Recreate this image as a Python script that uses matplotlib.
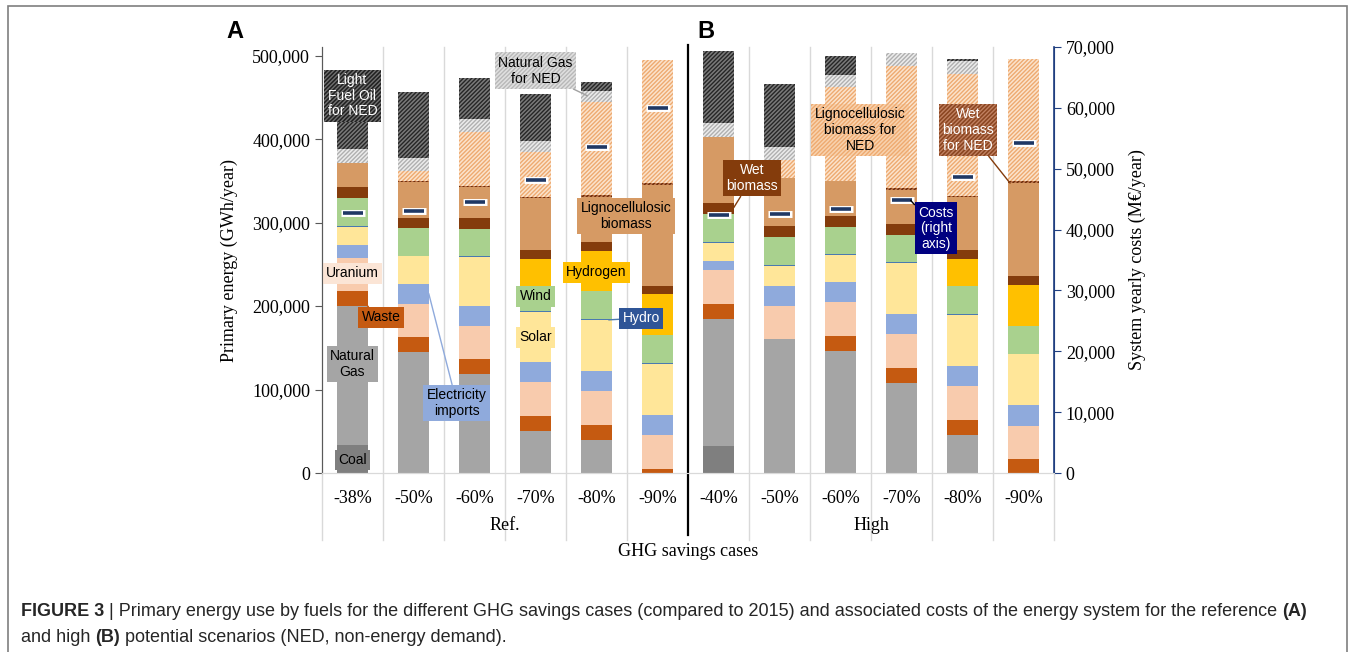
import numpy as np
import matplotlib
matplotlib.use('Agg')
import matplotlib.pyplot as plt
from matplotlib.patches import Rectangle
from matplotlib.ticker import FuncFormatter

# ---- data (GWh/year, costs in M EUR/year) ----
cases = ['-38%', '-50%', '-60%', '-70%', '-80%', '-90%',
         '-40%', '-50%', '-60%', '-70%', '-80%', '-90%']
groups = ['Ref.', 'High']

coal = [33000, 0, 0, 0, 0, 0, 32000, 0, 0, 0, 0, 0]
natural_gas = [167000, 145000, 118500, 50500, 40000, 0, 153000, 160000, 146500, 108000, 46000, 0]
waste = [18000, 17500, 17500, 17500, 17500, 5000, 18000, 0, 17500, 17500, 17500, 16500]
uranium = [40000, 40500, 40500, 40500, 40500, 40000, 40500, 40500, 40500, 40500, 40500, 40000]
elec_imports = [15000, 24000, 24000, 24000, 24000, 24500, 11000, 23000, 24000, 24000, 24000, 24500]
solar = [22000, 32500, 58500, 61000, 61000, 61500, 21000, 24500, 32500, 61500, 61000, 61000]
hydro = [1000, 1000, 1000, 1000, 1000, 1000, 1000, 1000, 1000, 1000, 1000, 1000]
wind = [33000, 32500, 32500, 30000, 34000, 33000, 33500, 34000, 32500, 33000, 34000, 33500]
hydrogen = [0, 0, 0, 31500, 47500, 49000, 0, 0, 0, 0, 32000, 49000]
wet_biomass = [13500, 13000, 13000, 11000, 11000, 9500, 13000, 13000, 13000, 13000, 11000, 10000]
ligno_biomass = [29500, 42500, 37000, 62500, 54500, 122000, 80000, 58000, 42000, 41000, 63500, 112500]
wet_biomass_ned = [0, 1500, 1500, 1500, 1500, 1500, 0, 0, 0, 1500, 1500, 1500]
ligno_biomass_ned = [0, 11500, 65000, 54000, 112500, 148000, 0, 21500, 113500, 147000, 145500, 146000]
natural_gas_ned = [16000, 16500, 15500, 13000, 12500, 0, 16000, 15500, 13500, 15500, 16500, 0]
fuel_oil_ned = [86000, 78500, 48500, 56500, 10500, 0, 86500, 74500, 23000, 0, 2000, 0]
costs = [42700, 43100, 44500, 48100, 53600, 59900, 42400, 42600, 43400, 44800, 48700, 54300]

W, H = 1354, 652
fig = plt.figure(figsize=(W / 100, H / 100), dpi=100)
fig.patch.set_facecolor('white')

# outer frame
fig.add_artist(Rectangle((8 / W, -0.01), (1347 - 8) / W, 1 - 6 / H + 0.01,
                         transform=fig.transFigure, fill=False,
                         edgecolor='#7f7f7f', linewidth=1.2))

ax = fig.add_axes([322 / W, 1 - 473 / H, (1054 - 322) / W, (473 - 47) / H])
ax2 = ax.twinx()

serif = 'Liberation Serif'
sans = 'Liberation Sans'

x = np.arange(len(cases))
layers = [
    (coal, '#7f7f7f', None, None),
    (natural_gas, '#a5a5a5', None, None),
    (waste, '#c55a11', None, None),
    (uranium, '#f8cbad', None, None),
    (elec_imports, '#8faadc', None, None),
    (solar, '#ffe699', None, None),
    (hydro, '#4a7ab0', None, None),
    (wind, '#a9d18e', None, None),
    (hydrogen, '#ffc000', None, None),
    (wet_biomass, '#843c0c', None, None),
    (ligno_biomass, '#d69a64', None, None),
    (wet_biomass_ned, '#c07a50', '////////', '#6b2a08'),
    (ligno_biomass_ned, '#fbe3cc', '////////', '#eeaa70'),
    (natural_gas_ned, '#ececec', '////////', '#b0b0b0'),
    (fuel_oil_ned, '#7a7a7a', '////////', '#262626'),
]
bottom = np.zeros(len(cases))
for vals, col, hatch, hcol in layers:
    vals = np.array(vals, dtype=float)
    if hatch:
        ax.bar(x, vals, 0.5, bottom=bottom, color=col, edgecolor=hcol,
               hatch=hatch, linewidth=0, zorder=2)
    else:
        ax.bar(x, vals, 0.5, bottom=bottom, color=col, linewidth=0, zorder=2)
    bottom += vals

ymax = 500000 * (473 - 47) / (473 - 55.7)
ax.set_xlim(-0.5, len(cases) - 0.5)
ax.set_ylim(0, ymax)
ax.set_yticks(np.arange(0, 500001, 100000))
ax.yaxis.set_major_formatter(FuncFormatter(lambda v, p: f'{int(v):,}'))
ax2.set_ylim(0, 70000)
ax2.set_yticks(np.arange(0, 70001, 10000))
ax2.yaxis.set_major_formatter(FuncFormatter(lambda v, p: f'{int(v):,}'))

ax.set_xticks(x)
ax.set_xticklabels(cases, fontfamily=serif, fontsize=13)
ax.tick_params(axis='x', length=0, pad=12)
ax.tick_params(axis='y', colors='#595959', labelcolor='black', length=5,
               labelsize=13, direction='out')
ax2.tick_params(axis='y', colors='#203f80', labelcolor='black', length=5,
                labelsize=13, direction='out')
for lab in ax.get_yticklabels() + ax2.get_yticklabels():
    lab.set_fontfamily(serif)

for a in (ax, ax2):
    a.spines['top'].set_visible(False)
    a.spines['bottom'].set_color('#d9d9d9')
    a.spines['left'].set_color('#595959')
    a.spines['right'].set_color('#203f80')
    a.patch.set_visible(False)
ax2.spines['right'].set_linewidth(1.2)

ax.set_ylabel('Primary energy (GWh/year)', fontfamily=serif, fontsize=13, labelpad=10)
ax2.set_ylabel('System yearly costs (M\u20ac/year)', fontfamily=serif, fontsize=13, labelpad=10)

# category separator lines, running below the axis
trans = ax.get_xaxis_transform()
y_low = -(540 - 473) / (473 - 47)
for b in np.arange(0.5, len(cases) - 1, 1.0):
    if b == 5.5:
        continue
    ax.plot([b, b], [y_low, 1], color='#d9d9d9', lw=1, transform=trans,
            clip_on=False, zorder=0)
ax.plot([-0.5, -0.5], [y_low, 0], color='#d9d9d9', lw=1, transform=trans, clip_on=False)
ax.plot([11.5, 11.5], [y_low, 0], color='#d9d9d9', lw=1, transform=trans, clip_on=False)
ax.plot([5.5, 5.5], [-(535 - 473) / (473 - 47), 1.005], color='black', lw=1.6,
        transform=trans, clip_on=False, zorder=5)

ax.text(2.5, -(525 - 473) / (473 - 47), groups[0], transform=trans, ha='center',
        va='center', fontfamily=serif, fontsize=13)
ax.text(8.5, -(525 - 473) / (473 - 47), groups[1], transform=trans, ha='center',
        va='center', fontfamily=serif, fontsize=13)
fig.text(((322 + 1054) / 2) / W, 1 - 552 / H, 'GHG savings cases', ha='center',
         va='center', fontfamily=serif, fontsize=13)

# cost markers
ax2.plot(x, costs, ls='none', marker='_', ms=17, mew=5, color='white', zorder=6)
ax2.plot(x, costs, ls='none', marker='_', ms=15, mew=2.6, color='#1f3864', zorder=7)


def label(a, txt, xy_text, fc, tc='black', hatch=None, hc=None, xy=None, lc='black'):
    bb = dict(boxstyle='square,pad=0.25', fc=fc, lw=0)
    if hatch:
        bb.update(hatch=hatch, ec=hc)
    kw = dict(ha='center', va='center', fontfamily=sans, fontsize=10,
              color=tc, bbox=bb, zorder=8, linespacing=1.15)
    if xy is None:
        a.text(xy_text[0], xy_text[1], txt, **kw)
    else:
        a.annotate(txt, xy=xy, xytext=xy_text,
                   arrowprops=dict(arrowstyle='-', color=lc, lw=1,
                                   shrinkA=0, shrinkB=0), **kw)


label(ax, 'Light\nFuel Oil\nfor NED', (0, 452000), '#202020', 'white', '////////', '#707070')
label(ax, 'Natural Gas\nfor NED', (3.0, 482000), '#e0e0e0', hatch='////////', hc='#b8b8b8',
      xy=(3.85, 452000), lc='#a0a0a0')
label(ax, 'Uranium', (0, 239500), '#fbe5d6')
label(ax, 'Waste', (0.47, 186800), '#c55a11', xy=(0.1, 209000), lc='#c55a11')
label(ax, 'Natural\nGas', (0, 130500), '#a5a5a5')
label(ax, 'Coal', (0, 15600), '#7f7f7f')
label(ax, 'Electricity\nimports', (1.71, 83800), '#8faadc', xy=(1.25, 215000), lc='#8faadc')
label(ax, 'Wind', (3.0, 212000), '#a9d18e')
label(ax, 'Solar', (3.0, 162900), '#ffe699')
label(ax, 'Hydrogen', (4.0, 240700), '#ffc000')
label(ax, 'Hydro', (4.73, 185600), '#2f5597', 'white', xy=(4.2, 183500), lc='#4a7ab0')
label(ax, 'Lignocellulosic\nbiomass', (4.48, 307800), '#d69a64')
label(ax, 'Wet\nbiomass', (6.55, 353300), '#843c0c', 'white', xy=(6.25, 318000), lc='#843c0c')
label(ax, 'Lignocellulosic\nbiomass for\nNED', (8.32, 410800), '#f8d2ae', hatch='////////', hc='#eeaa70')
label(ax, 'Wet\nbiomass\nfor NED', (10.09, 410800), '#8a4520', 'white', '////////', '#c08060',
      xy=(10.78, 347300), lc='#843c0c')
label(ax2, 'Costs\n(right\naxis)', (9.56, 40200), '#000080', 'white', xy=(9.15, 44800))

fig.text(235 / W, 1 - 32 / H, 'A', fontfamily=sans, fontweight='bold', fontsize=17,
         ha='center', va='center')
fig.text(706 / W, 1 - 32 / H, 'B', fontfamily=sans, fontweight='bold', fontsize=17,
         ha='center', va='center')

# caption with bold pieces, chained left to right
cap = dict(fontfamily=sans, fontsize=13, color='#262626', va='bottom', ha='left')
line1 = [('FIGURE 3', 'bold'), (' | Primary energy use by fuels for the different GHG savings cases '
         '(compared to 2015) and associated costs of the energy system for the reference ', 'normal'),
         ('(A)', 'bold')]
line2 = [('and high ', 'normal'), ('(B)', 'bold'),
         (' potential scenarios (NED, non-energy demand).', 'normal')]
for ypix, parts in ((620, line1), (646, line2)):
    prev = fig.text(21 / W, 1 - ypix / H, parts[0][0], fontweight=parts[0][1], **cap)
    for txt, wt in parts[1:]:
        prev = fig.add_artist(matplotlib.text.Annotation(
            txt, xy=(1, 0), xycoords=prev, fontweight=wt, **cap))

fig.savefig('out.png', dpi=100)
